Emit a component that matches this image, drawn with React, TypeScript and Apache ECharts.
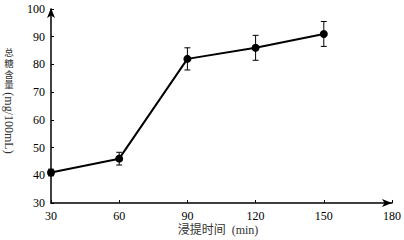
import React, { useEffect, useRef } from "react";
import * as echarts from "echarts";

const times = [30, 60, 90, 120, 150];
const sugar = [41, 46, 82, 86, 91];
const errors = [1.2, 2.3, 4, 4.5, 4.5];
const yTicks = { min: 30, max: 100, interval: 10 };
const xTicks = { min: 30, max: 180, interval: 30 };
const yNameCjk = ["总", "糖", "含", "量"];
const yNameLatin = "(mg/100mL)";
const xName = "浸提时间  (min)";

const FONT = "Liberation Serif, Noto Sans CJK SC, serif";

export default function App() {
  const ref = useRef<HTMLDivElement>(null);
  useEffect(() => {
    if (!ref.current) return;
    const chart = echarts.init(ref.current, undefined, { renderer: "svg" });
    const lineData = times.map((t, i) => [t, sugar[i]]);
    const errData = times.map((t, i) => [t, sugar[i] - errors[i], sugar[i] + errors[i]]);
    chart.setOption({
      animation: false,
      backgroundColor: "#fff",
      grid: { left: 51, right: 11, top: 9, bottom: 37 },
      xAxis: {
        type: "value",
        min: xTicks.min,
        max: xTicks.max,
        interval: xTicks.interval,
        axisLine: {
          show: true,
          symbol: ["none", "arrow"],
          symbolSize: [6, 10],
          symbolOffset: [0, 0],
          lineStyle: { color: "#000", width: 1.5 },
        },
        axisTick: { show: true, inside: true, length: 3, lineStyle: { color: "#000" } },
        axisLabel: { color: "#000", fontFamily: FONT, fontSize: 12, margin: 7 },
        splitLine: { show: false },
      },
      yAxis: {
        type: "value",
        min: yTicks.min,
        max: yTicks.max,
        interval: yTicks.interval,
        axisLine: {
          show: true,
          symbol: ["none", "arrow"],
          symbolSize: [6, 10],
          symbolOffset: [0, 1],
          lineStyle: { color: "#000", width: 1.5 },
        },
        axisTick: { show: true, inside: true, length: 3, lineStyle: { color: "#000" } },
        axisLabel: { color: "#000", fontFamily: FONT, fontSize: 12, margin: 6 },
        splitLine: { show: false },
      },
      graphic: [
        ...yNameCjk.map((c, i) => ({
          type: "text",
          x: 9,
          y: 48.5 + i * 10.7,
          style: {
            text: c,
            fontSize: 9.5,
            fontFamily: FONT,
            fill: "#333",
            align: "center",
            verticalAlign: "top",
          },
        })),
        {
          type: "text",
          x: 9,
          y: 123,
          rotation: -Math.PI / 2,
          style: {
            text: yNameLatin,
            fontSize: 12,
            fontFamily: FONT,
            fill: "#333",
            align: "center",
            verticalAlign: "middle",
          },
        },
        {
          type: "text",
          x: 218,
          y: 230,
          style: {
            text: xName,
            fontSize: 12,
            fontFamily: FONT,
            fill: "#333",
            align: "center",
            verticalAlign: "middle",
          },
        },
      ],
      series: [
        {
          type: "line",
          data: lineData,
          symbol: "circle",
          symbolSize: 8,
          itemStyle: { color: "#000" },
          lineStyle: { color: "#000", width: 2 },
          z: 3,
        },
        {
          type: "custom",
          data: errData,
          z: 4,
          renderItem: (params: any, api: any) => {
            const x = api.value(0);
            const lo = api.coord([x, api.value(1)]);
            const hi = api.coord([x, api.value(2)]);
            const w = 3;
            const style = { stroke: "#000", lineWidth: 1 };
            return {
              type: "group",
              children: [
                { type: "line", shape: { x1: lo[0], y1: lo[1], x2: hi[0], y2: hi[1] }, style },
                { type: "line", shape: { x1: lo[0] - w, y1: lo[1], x2: lo[0] + w, y2: lo[1] }, style },
                { type: "line", shape: { x1: hi[0] - w, y1: hi[1], x2: hi[0] + w, y2: hi[1] }, style },
              ],
            };
          },
        },
      ],
    });
    return () => chart.dispose();
  }, []);
  return <div ref={ref} style={{ width: 404, height: 240, position: "absolute", left: 0, top: 0 }} />;
}
